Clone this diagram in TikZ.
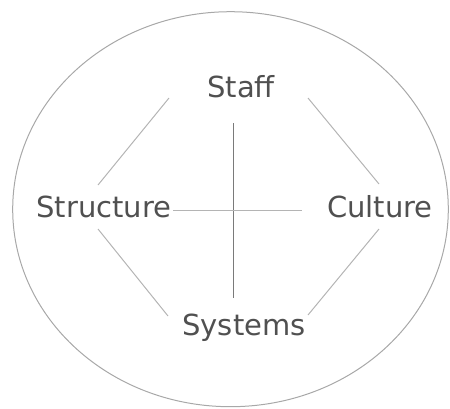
\documentclass[tikz,border=0pt]{standalone}
\usepackage{fontspec}
\setmainfont{DejaVu Sans}
\definecolor{textgray}{HTML}{505050}
\definecolor{linegray}{HTML}{B4B4B4}
\definecolor{axisgray}{HTML}{7A7A7A}
\definecolor{ringgray}{HTML}{A8A8A8}
\begin{document}
\begin{tikzpicture}[x=1pt,y=-1pt,
    factor/.style={font=\fontsize{29}{29}\selectfont, text=textgray, inner sep=0pt, anchor=base},
    link/.style={draw=linegray, line width=1pt},
    axis/.style={draw=axisgray, line width=1pt}]
    \useasboundingbox (0,0) rectangle (450,408);
    \draw[ringgray, line width=1pt] (230.5,209.2) ellipse [x radius=217.8, y radius=197.5];
    \node[factor] (staff) at (241,97) {Staff};
    \node[factor] (structure) at (104,217) {Structure};
    \node[factor] (culture) at (380,217) {Culture};
    \node[factor] (systems) at (244,335) {Systems};
    % outer links
    \draw[link] ([shift={(-72,1)}]staff.base) -- ([shift={(-6,-32)}]structure.base);
    \draw[link] ([shift={(67,1)}]staff.base) -- ([shift={(-1,-33)}]culture.base);
    \draw[link] ([shift={(-6,12)}]structure.base) -- ([shift={(-76,-19)}]systems.base);
    \draw[link] ([shift={(-1,12)}]culture.base) -- ([shift={(64,-20)}]systems.base);
    % cross
    \draw[axis] ([shift={(-8,26)}]staff.base) -- ([shift={(-11,-37)}]systems.base);
    \draw[link] ([shift={(69,-7)}]structure.base) -- ([shift={(-78,-7)}]culture.base);
\end{tikzpicture}
\end{document}
